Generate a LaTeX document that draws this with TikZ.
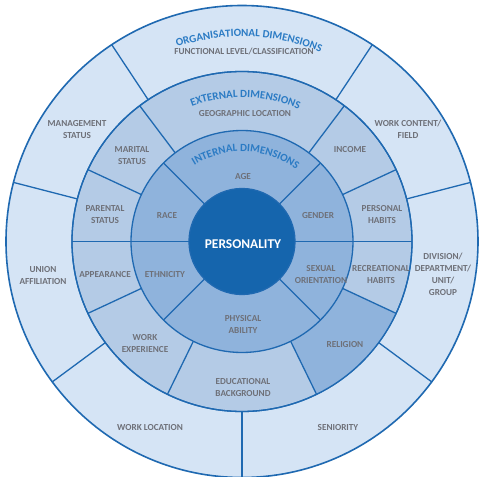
\documentclass[tikz,border=0pt]{standalone}
\usepackage{fontspec}
\setmainfont{Carlito}
\usetikzlibrary{decorations.text}

\definecolor{ringOuter}{HTML}{D5E4F5}
\definecolor{ringExt}{HTML}{B4CBE6}
\definecolor{ringInt}{HTML}{8FB3DC}
\definecolor{coreBlue}{HTML}{1565AD}
\definecolor{edgeBlue}{HTML}{1F69B1}
\definecolor{labelGrey}{HTML}{6E7078}
\definecolor{titleBlue}{HTML}{2B7BC4}

\newcommand\titlefont{\bfseries\fontsize{11}{13}\selectfont}

\begin{document}
\begin{tikzpicture}[x=1pt,y=1pt,
  lbl/.style={font=\bfseries\fontsize{9.2}{12}\selectfont, text=labelGrey, align=center, inner sep=0pt},
  ring/.style={draw=edgeBlue, line width=1.3pt},
  divider/.style={draw=edgeBlue, line width=1.3pt},
  arctitle/.style={decorate, decoration={text along path, text align=center, text color=titleBlue}}
]
\useasboundingbox (-242,-235.5) rectangle (241,241.5);
\fill[white] (-242,-235.5) rectangle (241,241.5);

% organisational ring
\filldraw[ring, fill=ringOuter, line width=1.6pt] (0,0) circle (236);
% external ring
\filldraw[ring, fill=ringExt] (0,0) circle (170);
% darker sector: religion
\fill[ringInt] (296:111) arc[start angle=296, end angle=335, radius=111]
  -- (335:170) arc[start angle=335, end angle=296, radius=170] -- cycle;
\draw[ring] (0,0) circle (170);
% internal ring
\filldraw[ring, fill=ringInt] (0,0) circle (111);
% core
\filldraw[ring, fill=coreBlue] (0,0) circle (53);

% dividers of the organisational ring
\foreach \a in {14.5,56.5,123.5,165.5,216.5,270,323.5}
  \draw[divider] (\a:170) -- (\a:236);
% dividers of the external ring
\foreach \a in {0,25,53,127,155,180,205,244,296,335}
  \draw[divider] (\a:111) -- (\a:170);
% dividers of the internal ring
\foreach \a in {0,45,135,180,225,315}
  \draw[divider] (\a:53) -- (\a:111);

% ring titles, set along arcs
\path[arctitle, decoration={text={|\titlefont|ORGANISATIONAL DIMENSIONS}}]
  (148:205) arc[start angle=148, end angle=28, radius=205];
\path[arctitle, decoration={text={|\titlefont|EXTERNAL DIMENSIONS}}]
  (148.6:144) arc[start angle=148.6, end angle=28.6, radius=144];
\path[arctitle, decoration={text={|\titlefont|INTERNAL DIMENSIONS}}]
  (157.5:90) arc[start angle=157.5, end angle=17.5, radius=90];

% core
\node[font=\bfseries\fontsize{13.4}{15}\selectfont, text=white] (core) at (1,-3) {PERSONALITY};

% internal dimensions
\node[lbl] (age) at (1,65) {AGE};
\node[lbl] (race) at (-75,26) {RACE};
\node[lbl] (gender) at (76,26) {GENDER};
\node[lbl] (ethnicity) at (-77,-33) {ETHNICITY};
\node[lbl] (sexual) at (79,-33) {SEXUAL\\ORIENTATION};
\node[lbl] (physical) at (1,-83) {PHYSICAL\\ABILITY};

% external dimensions
\node[lbl] (geo) at (3,128) {GEOGRAPHIC LOCATION};
\node[lbl] (marital) at (-110,86) {MARITAL\\STATUS};
\node[lbl] (income) at (108,92) {INCOME};
\node[lbl] (parental) at (-137,27) {PARENTAL\\STATUS};
\node[lbl] (personal) at (140,27) {PERSONAL\\HABITS};
\node[lbl] (appearance) at (-137,-33) {APPEARANCE};
\node[lbl] (recreational) at (139,-33) {RECREATIONAL\\HABITS};
\node[lbl] (workexp) at (-97,-102) {WORK\\EXPERIENCE};
\node[lbl] (religion) at (103,-103) {RELIGION};
\node[lbl] (education) at (1,-146) {EDUCATIONAL\\BACKGROUND};

% organisational dimensions
\node[lbl] (functional) at (2,190) {FUNCTIONAL LEVEL/CLASSIFICATION};
\node[lbl] (management) at (-165,112) {MANAGEMENT\\STATUS};
\node[lbl] (workcontent) at (166,112) {WORK CONTENT/\\FIELD};
\node[lbl] (union) at (-199,-34) {UNION\\AFFILIATION};
\node[lbl] (division) at (201,-33) {DIVISION/\\DEPARTMENT/\\UNIT/\\GROUP};
\node[lbl] (worklocation) at (-92,-186) {WORK LOCATION};
\node[lbl] (seniority) at (96,-186) {SENIORITY};
\end{tikzpicture}
\end{document}
